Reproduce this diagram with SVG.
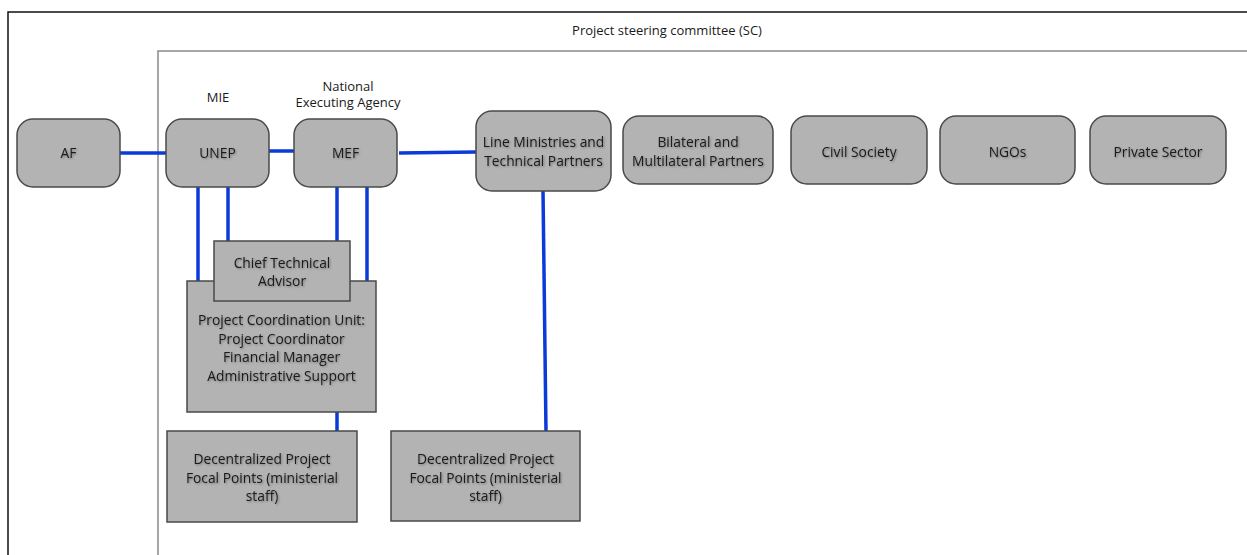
<svg xmlns="http://www.w3.org/2000/svg" width="1247" height="555" viewBox="0 0 1247 555">
<defs>
<filter id="ts" x="-10%" y="-30%" width="120%" height="160%">
<feGaussianBlur in="SourceAlpha" stdDeviation="1"/>
<feOffset dx="1" dy="1" result="b"/>
<feComponentTransfer><feFuncA type="linear" slope="0.35"/></feComponentTransfer>
<feMerge><feMergeNode/><feMergeNode in="SourceGraphic"/></feMerge>
</filter>
</defs>
<style>
.box{fill:#b3b3b3;stroke:#4a4a4a;stroke-width:1.5}
.t{font-family:"Open Sans","Liberation Sans",sans-serif;font-size:13.8px;fill:#1a1a1a;text-anchor:middle;filter:url(#ts)}
.lbl{font-family:"Open Sans","Liberation Sans",sans-serif;font-size:13px;fill:#1a1a1a;text-anchor:middle}
.c{stroke:#0a3ad8;stroke-width:3.5;fill:none}
</style>
<rect width="1247" height="555" fill="#fff"/>
<g id="frames">
<rect x="8" y="12" width="1260" height="560" fill="none" stroke="#111" stroke-width="1.5"/>
<rect x="158" y="51" width="1110" height="520" fill="none" stroke="#8a8a8a" stroke-width="1.5"/>
<text class="lbl" x="667" y="35">Project steering committee (SC)</text>
<text class="lbl" x="218" y="102">MIE</text>
<text class="lbl" x="348" y="91">National</text>
<text class="lbl" x="348" y="107">Executing Agency</text>
</g>
<g id="connectors">
<line class="c" x1="120" y1="153" x2="166" y2="153"/>
<line class="c" x1="269" y1="151" x2="294" y2="151"/>
<line class="c" x1="399" y1="153" x2="476" y2="152"/>
<line class="c" x1="198" y1="187" x2="198" y2="281"/>
<line class="c" x1="228" y1="187" x2="228" y2="241"/>
<line class="c" x1="337" y1="187" x2="337" y2="241"/>
<line class="c" x1="367" y1="187" x2="367" y2="281"/>
<line class="c" x1="337" y1="407" x2="337" y2="431"/>
<line class="c" x1="543" y1="191" x2="546" y2="431"/>
</g>
<g id="af"><rect class="box" x="17" y="119" width="103" height="68" rx="16"/><text class="t" x="68.5" y="158">AF</text></g>
<g id="unep"><rect class="box" x="166" y="119" width="103" height="68" rx="16"/><text class="t" x="217.5" y="158">UNEP</text></g>
<g id="mef"><rect class="box" x="294" y="119" width="103" height="68" rx="16"/><text class="t" x="345.5" y="158">MEF</text></g>
<g id="line-ministries"><rect class="box" x="476" y="111" width="135" height="80" rx="16"/><text class="t" x="543.5" y="147">Line Ministries and</text><text class="t" x="543.5" y="166">Technical Partners</text></g>
<g id="bilateral"><rect class="box" x="623" y="116" width="150" height="68" rx="16"/><text class="t" x="698" y="147">Bilateral and</text><text class="t" x="698" y="166">Multilateral Partners</text></g>
<g id="civil-society"><rect class="box" x="791" y="116" width="136" height="68" rx="16"/><text class="t" x="859" y="157">Civil Society</text></g>
<g id="ngos"><rect class="box" x="940" y="116" width="135" height="68" rx="16"/><text class="t" x="1007.5" y="157">NGOs</text></g>
<g id="private-sector"><rect class="box" x="1090" y="116" width="136" height="68" rx="16"/><text class="t" x="1158" y="157">Private Sector</text></g>
<g id="pcu"><rect class="box" x="187" y="281" width="189" height="131"/><text class="t" x="281.5" y="325">Project Coordination Unit:</text><text class="t" x="281.5" y="343.5">Project Coordinator</text><text class="t" x="281.5" y="362">Financial Manager</text><text class="t" x="281.5" y="380.5">Administrative Support</text></g>
<g id="cta"><rect class="box" x="214" y="241" width="136" height="60"/><text class="t" x="282" y="268">Chief Technical</text><text class="t" x="282" y="286">Advisor</text></g>
<g id="dec1"><rect class="box" x="167" y="431" width="190" height="91"/><text class="t" x="262" y="464">Decentralized Project</text><text class="t" x="262" y="482.5">Focal Points (ministerial</text><text class="t" x="262" y="501">staff)</text></g>
<g id="dec2"><rect class="box" x="391" y="431" width="189" height="90"/><text class="t" x="485.5" y="464">Decentralized Project</text><text class="t" x="485.5" y="482.5">Focal Points (ministerial</text><text class="t" x="485.5" y="501">staff)</text></g>
</svg>
